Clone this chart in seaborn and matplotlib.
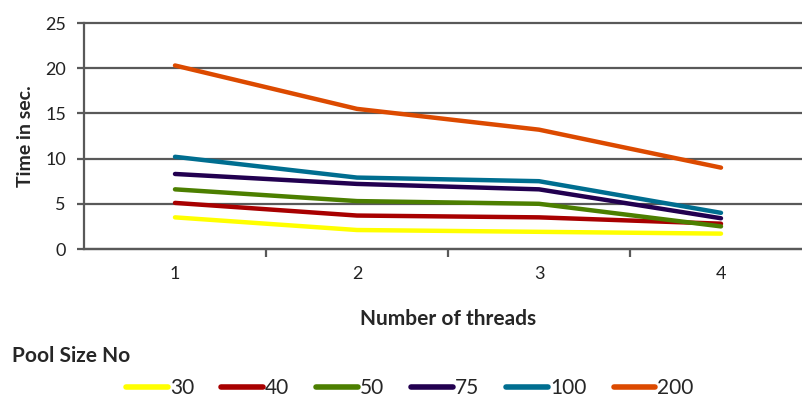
import numpy as np
import pandas as pd
import matplotlib
matplotlib.use("Agg")
import matplotlib.pyplot as plt
import seaborn as sns

# Values
threads = ["1", "2", "3", "4"]
pool_sizes = ["30", "40", "50", "75", "100", "200"]
time_30 = [3.5, 2.1, 1.9, 1.7]
time_40 = [5.1, 3.7, 3.5, 2.8]
time_50 = [6.6, 5.3, 5.0, 2.5]
time_75 = [8.3, 7.2, 6.6, 3.4]
time_100 = [10.2, 7.9, 7.5, 4.0]
time_200 = [20.3, 15.5, 13.2, 9.0]
y_ticks = [0, 5, 10, 15, 20, 25]

colors = ["#FFFF00", "#A80000", "#4C7F00", "#220050", "#006E90", "#DC4A00"]

series = [time_30, time_40, time_50, time_75, time_100, time_200]
rows = []
for size, vals in zip(pool_sizes, series):
    for i, v in enumerate(vals):
        rows.append({"pos": i, "time": v, "pool": size})
df = pd.DataFrame(rows)

sns.set_theme(style="white")
plt.rcParams["font.family"] = ["Lato", "DejaVu Sans"]

fig = plt.figure(figsize=(8.03, 4.0), dpi=100)
ax = fig.add_axes([84 / 803, 151 / 400, 728 / 803, 226 / 400])

sns.lineplot(data=df, x="pos", y="time", hue="pool", hue_order=pool_sizes,
             palette=colors, linewidth=3.2, ax=ax, legend=False,
             solid_capstyle="round")

grid_col = "#595959"
ax.set_xlim(-0.5, 3.5)
ax.set_ylim(0, 25)
ax.set_yticks(y_ticks)
ax.set_yticklabels([str(t) for t in y_ticks], fontsize=13, color="#222222")
ax.yaxis.grid(True, color=grid_col, linewidth=1.6)
for gl in ax.get_ygridlines():
    gl.set_clip_on(False)
ax.set_axisbelow(True)
ax.set_xticks(range(len(threads)))
ax.set_xticklabels(threads, fontsize=13, color="#222222")
ax.set_xticks([0.5, 1.5, 2.5], minor=True)
ax.tick_params(axis="x", which="major", length=0, pad=12)
ax.tick_params(axis="x", which="minor", length=6, width=1.6, color=grid_col,
               direction="out", bottom=True)
ax.tick_params(axis="y", length=5, width=1.6, color=grid_col, direction="out",
               left=True, pad=8)
for side in ["top", "right"]:
    ax.spines[side].set_visible(False)
for side in ["left", "bottom"]:
    ax.spines[side].set_color(grid_col)
    ax.spines[side].set_linewidth(1.6)

ax.set_xlabel("Number of threads", fontsize=15, fontweight="bold", labelpad=20)
ax.set_ylabel("Time in sec.", fontsize=14, fontweight="bold", labelpad=8)

handles = [plt.Line2D([], [], color=c, linewidth=4, solid_capstyle="round")
           for c in colors]
fig.legend(handles, pool_sizes, loc="center", ncol=6, frameon=False,
           bbox_to_anchor=(410 / 803, 1 - 388 / 400), fontsize=15,
           handlelength=2.0, handletextpad=0.1, columnspacing=1.3)
fig.text(12 / 803, 1 - 356 / 400, "Pool Size No", fontsize=15,
         fontweight="bold", va="center", ha="left")

fig.savefig("out.png", dpi=100)
